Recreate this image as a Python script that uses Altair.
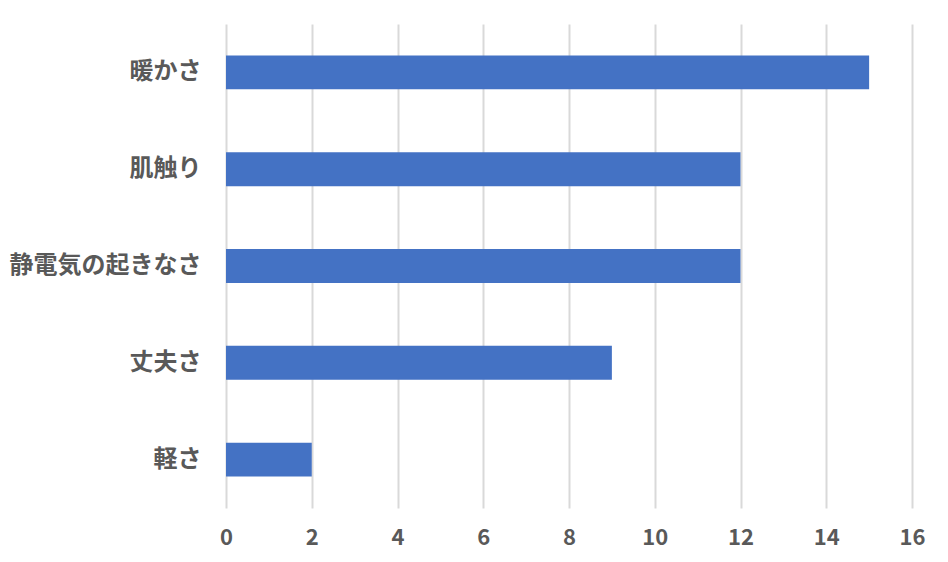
import altair as alt
import pandas as pd

categories = ["暖かさ", "肌触り", "静電気の起きなさ", "丈夫さ", "軽さ"]
values = [15, 12, 12, 9, 2]
x_ticks = [0, 2, 4, 6, 8, 10, 12, 14, 16]

df = pd.DataFrame({"category": categories, "value": values})

chart = alt.Chart(df).mark_bar(color="#4472C4").encode(
    y=alt.Y("category:N", sort=categories, title=None,
            scale=alt.Scale(paddingInner=0.65, paddingOuter=0.325),
            axis=alt.Axis(domain=False, ticks=False, labelPadding=25, labelLimit=400,
                          labelFont="Noto Sans CJK JP", labelFontSize=24,
                          labelFontWeight="bold", labelColor="#595959", grid=False)),
    x=alt.X("value:Q", title=None,
            scale=alt.Scale(domain=[0, 16], nice=False),
            axis=alt.Axis(values=x_ticks, domain=False, ticks=False, labelPadding=19,
                          labelFlush=False,
                          labelFont="Noto Sans CJK JP", labelFontSize=22,
                          labelFontWeight="bold", labelColor="#595959",
                          grid=True, gridColor="#D9D9D9", gridWidth=2)),
).properties(
    width=686, height=484,
    autosize=alt.AutoSizeParams(type="none"),
    padding={"left": 218, "top": 16, "right": 20, "bottom": 46},
).configure_view(stroke=None)

chart.save("out.html", embed_options={"renderer": "svg", "actions": False})
